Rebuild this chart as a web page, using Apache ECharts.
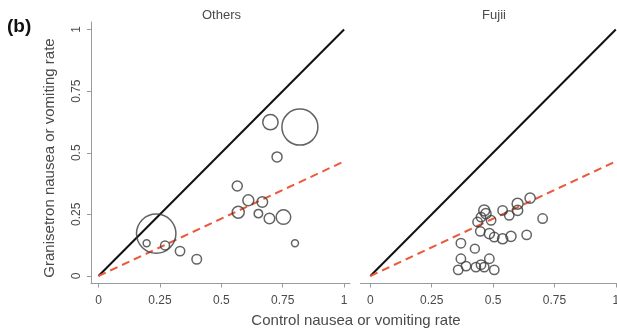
<!DOCTYPE html>
<html>
<head>
<meta charset="utf-8">
<style>
  html, body { margin: 0; padding: 0; background: #fff; }
  #chart { width: 617px; height: 329px; }
</style>
<script src="https://cdn.jsdelivr.net/npm/echarts@6/dist/echarts.min.js"></script>
</head>
<body>
<div id="chart"></div>
<script>
// Control vs. granisetron event rates per trial; bubble area ~ trial weight
const panelTitles = ['Others', 'Fujii'];
const tickValues = [0, 0.25, 0.5, 0.75, 1];
const tickLabels = ['0', '0.25', '0.5', '0.75', '1'];

const othersControl = [0.235, 0.196, 0.271, 0.332, 0.400, 0.565, 0.569, 0.610, 0.651, 0.667, 0.696, 0.753, 0.800, 0.700, 0.727, 0.820];
const othersGranisetron = [0.172, 0.133, 0.124, 0.101, 0.068, 0.365, 0.259, 0.307, 0.253, 0.300, 0.233, 0.239, 0.133, 0.624, 0.483, 0.604];
const othersWeight = [388, 12, 20, 22, 23, 25, 36, 30, 18, 28, 28, 53, 12, 59, 25, 324];

const fujiiControl = [0.369, 0.426, 0.369, 0.358, 0.390, 0.430, 0.451, 0.485, 0.505, 0.464, 0.451, 0.464, 0.471, 0.437, 0.448, 0.492, 0.485, 0.505, 0.539, 0.573, 0.539, 0.566, 0.600, 0.600, 0.651, 0.637, 0.702];
const fujiiGranisetron = [0.133, 0.111, 0.070, 0.025, 0.040, 0.036, 0.046, 0.070, 0.025, 0.036, 0.239, 0.266, 0.253, 0.219, 0.181, 0.226, 0.172, 0.158, 0.151, 0.161, 0.266, 0.246, 0.293, 0.266, 0.316, 0.167, 0.233];
const fujiiWeight = [22, 20, 22, 22, 22, 22, 22, 22, 22, 22, 22, 30, 26, 22, 22, 22, 26, 22, 26, 26, 22, 22, 30, 26, 26, 22, 22];

// Pooled granisetron/control ratio (dashed line) and line of equality
const pooledRatio = 0.465;

function points(xs, ys, ws) {
  return xs.map((x, i) => [x, ys[i], ws[i]]);
}

const textColor = '#4a4a4a';
const axisColor = '#9a9a9a';
const fontFamily = 'Liberation Sans, Arial, sans-serif';

function xAxisFor(gridIndex, min, max) {
  return {
    gridIndex, type: 'value', min, max,
    axisLine: { show: true, onZero: false, lineStyle: { color: axisColor, width: 1 } },
    axisTick: { show: true, customValues: tickValues, length: 4, lineStyle: { color: axisColor } },
    axisLabel: {
      customValues: tickValues,
      formatter: v => tickLabels[tickValues.indexOf(v)] ?? '',
      color: textColor, fontSize: 12, fontFamily, margin: 11
    },
    splitLine: { show: false }
  };
}

function yAxisFor(gridIndex, show) {
  return {
    gridIndex, type: 'value', min: -0.0305, max: 1.0305,
    show,
    axisLine: { show: true, onZero: false, lineStyle: { color: axisColor, width: 1 } },
    axisTick: { show: true, customValues: tickValues, length: 4, lineStyle: { color: axisColor } },
    axisLabel: {
      customValues: tickValues,
      formatter: v => tickLabels[tickValues.indexOf(v)] ?? '',
      rotate: 90, color: textColor, fontSize: 12, fontFamily, margin: 8
    },
    splitLine: { show: false }
  };
}

function bubbles(idx, data) {
  return {
    type: 'scatter', xAxisIndex: idx, yAxisIndex: idx,
    data, symbol: 'circle',
    symbolSize: v => 2 * Math.sqrt(v[2]),
    itemStyle: { color: 'rgba(0,0,0,0)', borderColor: '#3c3c3c', borderWidth: 1.5 },
    z: 3, silent: true
  };
}

function refLine(idx, slope, color, type, width) {
  return {
    type: 'line', xAxisIndex: idx, yAxisIndex: idx,
    data: [[0, 0], [1, slope]], symbol: 'none',
    lineStyle: { color, width, type },
    z: 2, silent: true
  };
}

const chart = echarts.init(document.getElementById('chart'), null, { renderer: 'canvas' });
chart.setOption({
  animation: false,
  backgroundColor: '#fff',
  grid: [
    { left: 91, top: 22, width: 259, height: 261.5, outerBoundsMode: 'none', containLabel: false },
    { left: 360.5, top: 22, width: 256.5, height: 261.5, outerBoundsMode: 'none', containLabel: false }
  ],
  xAxis: [xAxisFor(0, -0.0305, 1.024), xAxisFor(1, -0.04, 1.005)],
  yAxis: [yAxisFor(0, true), yAxisFor(1, false)],
  series: [
    refLine(0, 1, '#111', 'solid', 2),
    refLine(0, pooledRatio, '#ec5a3c', [8, 5], 2),
    bubbles(0, points(othersControl, othersGranisetron, othersWeight)),
    refLine(1, 1, '#111', 'solid', 2),
    refLine(1, pooledRatio, '#ec5a3c', [8, 5], 2),
    bubbles(1, points(fujiiControl, fujiiGranisetron, fujiiWeight))
  ],
  graphic: [
    { type: 'text', x: 7, y: 27, style: { text: '(b)', font: 'bold 19px ' + fontFamily, fill: '#111', verticalAlign: 'middle' } },
    { type: 'text', x: 221.5, y: 15, style: { text: panelTitles[0], font: '13px ' + fontFamily, fill: textColor, align: 'center', verticalAlign: 'middle' } },
    { type: 'text', x: 494, y: 15, style: { text: panelTitles[1], font: '13px ' + fontFamily, fill: textColor, align: 'center', verticalAlign: 'middle' } },
    { type: 'text', x: 356, y: 321, style: { text: 'Control nausea or vomiting rate', font: '15px ' + fontFamily, fill: textColor, align: 'center', verticalAlign: 'middle' } },
    { type: 'text', x: 50, y: 158, rotation: Math.PI / 2, style: { text: 'Granisetron nausea or vomiting rate', font: '15px ' + fontFamily, fill: textColor, align: 'center', verticalAlign: 'middle' } }
  ]
});
</script>
</body>
</html>
